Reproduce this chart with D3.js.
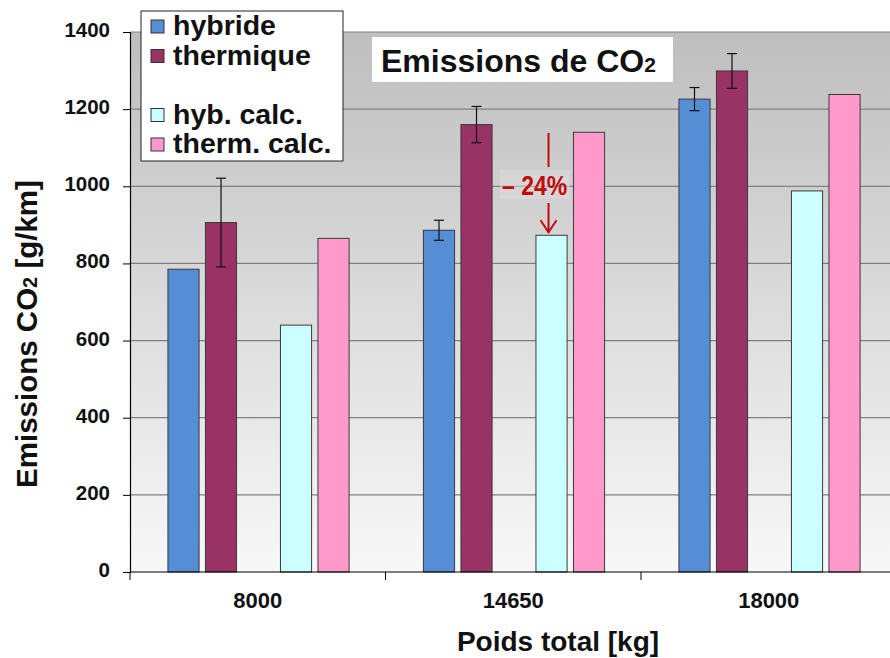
<!DOCTYPE html>
<html><head><meta charset="utf-8">
<script src="https://cdn.jsdelivr.net/npm/d3@7"></script>
<style>
html,body{margin:0;padding:0;background:#fff;}
text{font-family:"Liberation Sans",Arial,Helvetica,sans-serif;}
</style></head>
<body><svg id="chart" width="890" height="658"></svg>
<script>
// ---- data ----
const categories = ["8000", "14650", "18000"];
const seriesNames = ["hybride", "thermique", "hyb. calc.", "therm. calc."];
const hybride = [785, 886, 1226];
const thermique = [906, 1160, 1299];
const hybCalc = [640, 873, 988];
const thermCalc = [865, 1140, 1238];
const hybrideErr = [0, 26, 30];
const thermiqueErr = [115, 47, 45];
const yTicks = [0, 200, 400, 600, 800, 1000, 1200, 1400];
const seriesColors = ["#558ed5", "#993366", "#ccffff", "#ff99cc"];

(function () {
const svg = d3.select("#chart");
const W = 890, H = 658;
const mLeft = 130, mTop = 32, mBottom = 572, mRight = 896.5;

const x = d3.scaleBand().domain(categories).range([mLeft, mRight]).padding(0);
const bw = x.bandwidth();
const slots = ["hybride", "thermique", "_gap", "hyb. calc.", "therm. calc."];
const xi = d3.scaleBand().domain(slots).range([bw * 0.136, bw * 0.87]).paddingInner(0.17).paddingOuter(0.085);
const y = d3.scaleLinear().domain([0, 1400]).range([mBottom, mTop]);

// gradient background
const defs = svg.append("defs");
const grad = defs.append("linearGradient").attr("id", "bg").attr("x1", 0).attr("y1", 0).attr("x2", 0).attr("y2", 1);
grad.append("stop").attr("offset", "0%").attr("stop-color", "#bebebe");
grad.append("stop").attr("offset", "100%").attr("stop-color", "#f8f8f8");
svg.append("rect").attr("x", mLeft).attr("y", y(1400)).attr("width", W - mLeft).attr("height", y(0) - y(1400)).attr("fill", "url(#bg)");

// gridlines
svg.append("g").selectAll("line").data(yTicks.filter(d => d > 0)).join("line")
  .attr("x1", mLeft).attr("x2", W).attr("y1", d => y(d)).attr("y2", d => y(d))
  .attr("stroke", "#808080").attr("stroke-width", 1.2);

// bars
const rows = [];
categories.forEach((c, i) => {
  rows.push({c, s: "hybride", v: hybride[i], e: hybrideErr[i], col: seriesColors[0]});
  rows.push({c, s: "thermique", v: thermique[i], e: thermiqueErr[i], col: seriesColors[1]});
  rows.push({c, s: "hyb. calc.", v: hybCalc[i], e: 0, col: seriesColors[2]});
  rows.push({c, s: "therm. calc.", v: thermCalc[i], e: 0, col: seriesColors[3]});
});
svg.append("g").selectAll("rect").data(rows).join("rect")
  .attr("x", d => x(d.c) + xi(d.s)).attr("width", xi.bandwidth())
  .attr("y", d => y(d.v)).attr("height", d => y(0) - y(d.v))
  .attr("fill", d => d.col).attr("stroke", "#3a3a3a").attr("stroke-width", 1);

// error bars
const eg = svg.append("g").attr("stroke", "#111").attr("stroke-width", 1.2);
rows.filter(d => d.e > 0).forEach(d => {
  const cx = x(d.c) + xi(d.s) + xi.bandwidth() / 2;
  eg.append("line").attr("x1", cx).attr("x2", cx).attr("y1", y(d.v + d.e)).attr("y2", y(d.v - d.e));
  eg.append("line").attr("x1", cx - 5).attr("x2", cx + 5).attr("y1", y(d.v + d.e)).attr("y2", y(d.v + d.e));
  eg.append("line").attr("x1", cx - 5).attr("x2", cx + 5).attr("y1", y(d.v - d.e)).attr("y2", y(d.v - d.e));
});

// axes
const yAxis = d3.axisLeft(y).tickValues(yTicks).tickSize(7).tickPadding(13).tickFormat(d3.format("d"));
const gy = svg.append("g").attr("transform", `translate(${mLeft},0)`).call(yAxis);
gy.select(".domain").attr("stroke", "#000").attr("stroke-width", 1.2);
gy.selectAll(".tick line").attr("stroke", "#000");
gy.selectAll(".tick text").attr("font-size", 20.5).attr("font-weight", "bold").attr("fill", "#111")
  .attr("font-family", "Liberation Sans, Arial, sans-serif").attr("dy", "0.22em");

const gx = svg.append("g").attr("transform", `translate(0,${mBottom})`);
gx.append("line").attr("x1", mLeft).attr("x2", W).attr("y1", 0).attr("y2", 0).attr("stroke", "#000").attr("stroke-width", 1.2);
gx.selectAll(".tk").data(categories).join("line").attr("class", "tk")
  .attr("x1", d => x(d)).attr("x2", d => x(d)).attr("y1", 0).attr("y2", 8).attr("stroke", "#000");
gx.selectAll(".lbl").data(categories).join("text").attr("class", "lbl")
  .attr("x", d => x(d) + bw / 2).attr("y", 35.5).attr("text-anchor", "middle")
  .attr("font-size", 22).attr("font-weight", "bold").attr("fill", "#111").text(d => d);

// axis titles
svg.append("text").attr("x", 558).attr("y", 651).attr("text-anchor", "middle")
  .attr("font-size", 28).attr("font-weight", "bold").attr("fill", "#111").text("Poids total [kg]");
const yt = svg.append("text").attr("transform", "translate(37,334) rotate(-90)").attr("text-anchor", "middle")
  .attr("font-size", 29.5).attr("font-weight", "bold").attr("fill", "#111");
yt.append("tspan").text("Emissions CO");
yt.append("tspan").attr("font-size", 20).text("2");
yt.append("tspan").text(" [g/km]");

// title box
svg.append("rect").attr("x", 372).attr("y", 37).attr("width", 301).attr("height", 45).attr("fill", "#fff");
const tt = svg.append("text").attr("x", 381).attr("y", 72).attr("font-size", 32).attr("font-weight", "bold").attr("fill", "#111");
tt.append("tspan").text("Emissions de CO");
tt.append("tspan").attr("font-size", 21).text("2");

// legend
svg.append("rect").attr("x", 141).attr("y", 11).attr("width", 202).attr("height", 150)
  .attr("fill", "#fff").attr("stroke", "#222").attr("stroke-width", 1);
const legBase = [35, 64.5, 123.5, 153];
seriesNames.forEach((n, i) => {
  svg.append("rect").attr("x", 151).attr("y", legBase[i] - 15).attr("width", 13).attr("height", 13)
    .attr("fill", seriesColors[i]).attr("stroke", "#333").attr("stroke-width", 1);
  svg.append("text").attr("x", 173).attr("y", legBase[i]).attr("font-size", 28.5).attr("font-weight", "bold")
    .attr("fill", "#111").text(n);
});

// annotation -24%
const ax = x("14650") + xi("hyb. calc.") + xi.bandwidth() / 2 - 3;
const red = "#c00a0a";
svg.append("rect").attr("x", 500).attr("y", 170).attr("width", 70).attr("height", 29).attr("fill", "#dedede").attr("opacity", 0.5);
svg.append("line").attr("x1", ax).attr("x2", ax).attr("y1", 133).attr("y2", 167).attr("stroke", red).attr("stroke-width", 2);
svg.append("line").attr("x1", ax).attr("x2", ax).attr("y1", 203).attr("y2", y(hybCalc[1]) - 3).attr("stroke", red).attr("stroke-width", 2);
svg.append("path").attr("d", `M${ax - 8},${y(hybCalc[1]) - 15} L${ax},${y(hybCalc[1]) - 3} L${ax + 8},${y(hybCalc[1]) - 15}`)
  .attr("fill", "none").attr("stroke", red).attr("stroke-width", 2);
svg.append("text").attr("transform", "translate(502,195) scale(0.82,1)").attr("font-size", 28).attr("font-weight", "bold")
  .attr("fill", red).text("– 24%");
})();
</script></body></html>
